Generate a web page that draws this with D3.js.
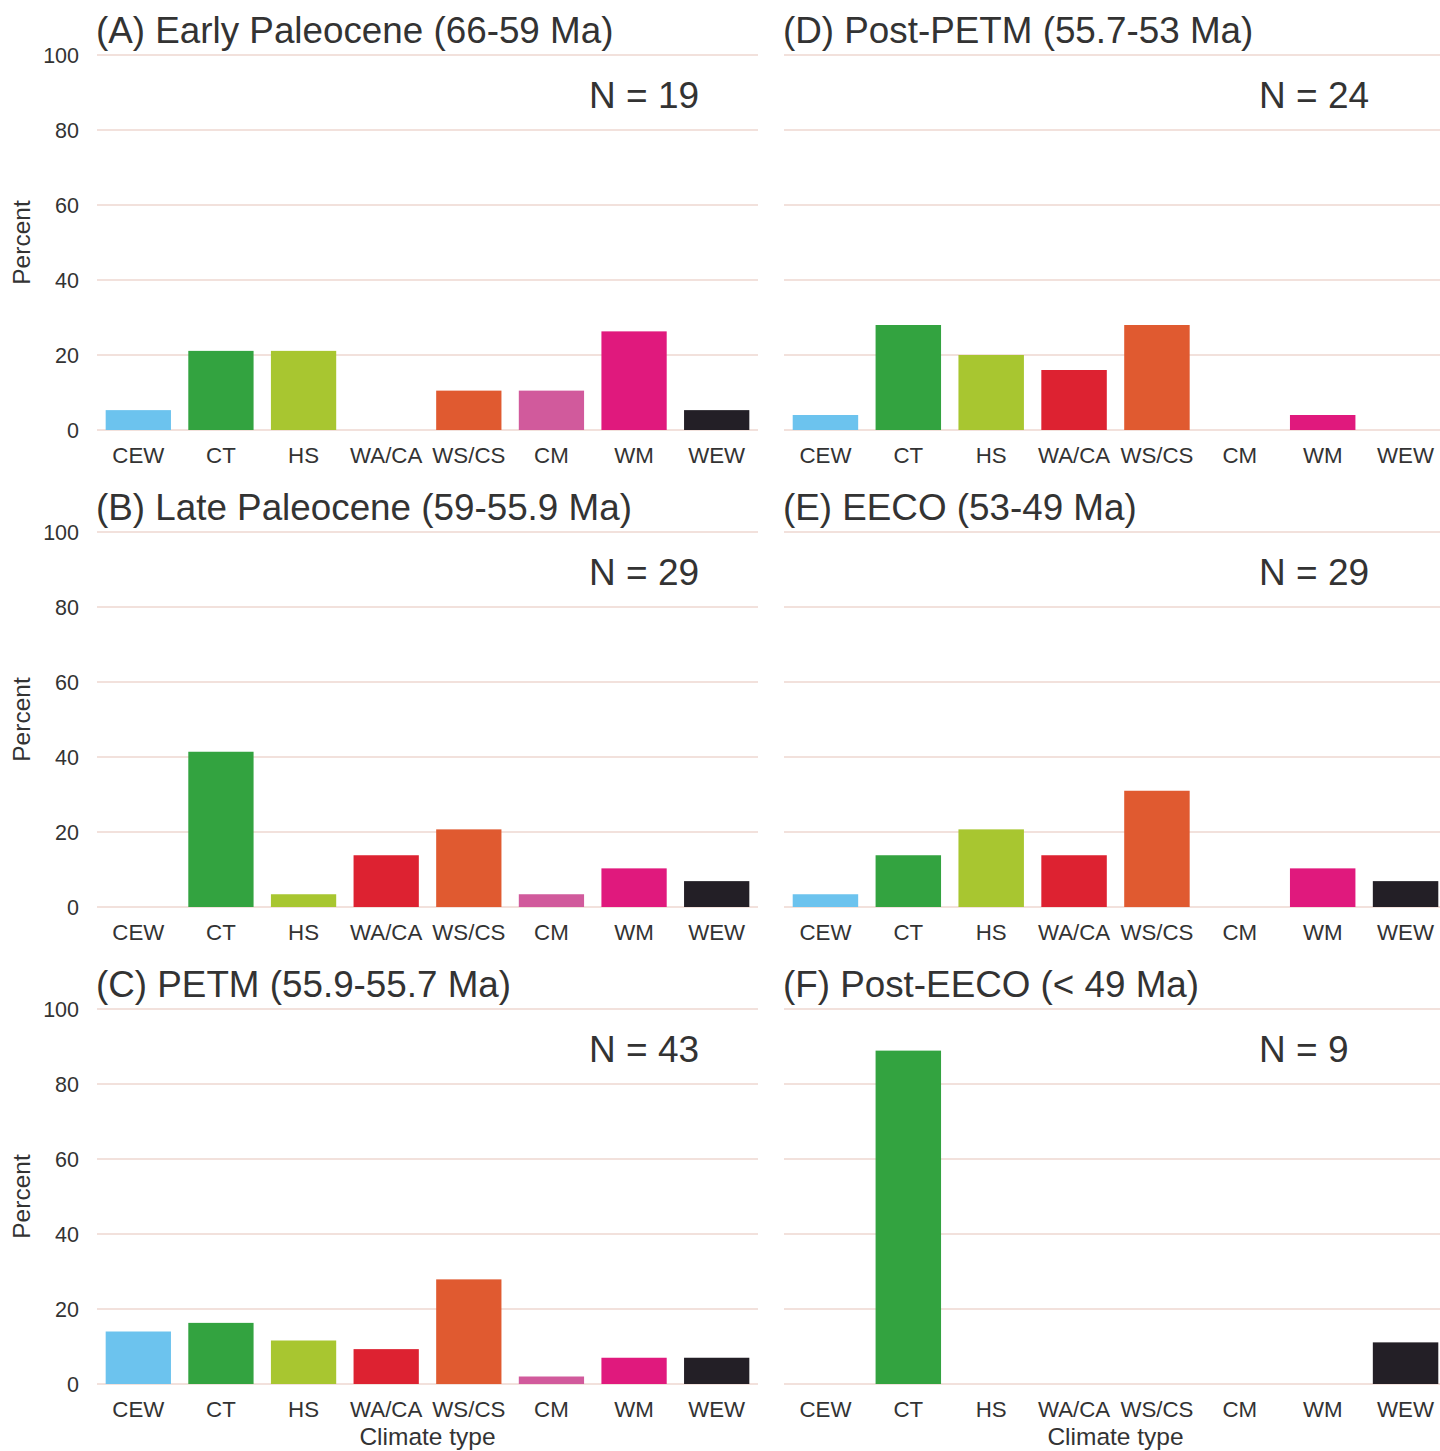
<!DOCTYPE html>
<html>
<head>
<meta charset="utf-8">
<script src="https://cdn.jsdelivr.net/npm/d3@7"></script>
<style>
  html, body { margin: 0; padding: 0; background: #fff; }
  svg { display: block; font-family: "Liberation Sans", Arial, sans-serif; }
</style>
</head>
<body>
<svg id="chart" width="1440" height="1451"></svg>
<script>
// ---- data ----
const categories = ["CEW", "CT", "HS", "WA/CA", "WS/CS", "CM", "WM", "WEW"];
const colors = ["#6cc3ee", "#33a340", "#a8c630", "#dd2231", "#e05a30", "#d15a9c", "#e0197d", "#231f26"];
const yTicks = [0, 20, 40, 60, 80, 100];

const titles = [
  "(A) Early Paleocene (66-59 Ma)",
  "(B) Late Paleocene (59-55.9 Ma)",
  "(C) PETM (55.9-55.7 Ma)",
  "(D) Post-PETM (55.7-53 Ma)",
  "(E) EECO (53-49 Ma)",
  "(F) Post-EECO (< 49 Ma)"
];
const sampleSizes = [19, 29, 43, 24, 29, 9];

const valuesA = [5.3, 21.1, 21.1, 0, 10.5, 10.5, 26.3, 5.3];
const valuesB = [0, 41.4, 3.4, 13.8, 20.7, 3.4, 10.3, 6.9];
const valuesC = [14.0, 16.3, 11.6, 9.3, 27.9, 2.0, 7.0, 7.0];
const valuesD = [4.0, 28.0, 20.0, 16.0, 28.0, 0, 4.0, 0];
const valuesE = [3.4, 13.8, 20.7, 13.8, 31.0, 0, 10.3, 6.9];
const valuesF = [0, 88.9, 0, 0, 0, 0, 0, 11.1];
const panelValues = [valuesA, valuesB, valuesC, valuesD, valuesE, valuesF];

// ---- layout ----
const svg = d3.select("#chart");
const colX = [[97, 758], [784, 1447]];
const nTextX = [589, 1259];
const rowZero = [430, 907, 1384];
const plotH = 375;
const textColor = "#333333";
const gridColor = "#f2e1dc";

panelValues.forEach((vals, i) => {
  const col = Math.floor(i / 3), row = i % 3;
  const [x0, x1] = colX[col];
  const yZero = rowZero[row];
  const g = svg.append("g");

  const x = d3.scaleBand().domain(categories).range([x0, x1])
    .paddingInner(0.21).paddingOuter(0.105);
  const y = d3.scaleLinear().domain([0, 100]).range([yZero, yZero - plotH]);

  // gridlines
  g.selectAll("line.grid").data(yTicks).join("line")
    .attr("x1", x0).attr("x2", x1)
    .attr("y1", d => y(d)).attr("y2", d => y(d))
    .attr("stroke", gridColor).attr("stroke-width", 2);

  // y tick labels (left column only)
  if (col === 0) {
    const ya = d3.axisLeft(y).tickValues(yTicks).tickSize(0).tickPadding(0);
    const ag = g.append("g").attr("transform", `translate(${x0 - 18},1)`).call(ya);
    ag.select(".domain").remove();
    ag.selectAll("text").attr("font-size", 21.5).attr("fill", textColor)
      .attr("font-family", "Liberation Sans, Arial, sans-serif");

    g.append("text")
      .attr("transform", `translate(30,${y(50)}) rotate(-90)`)
      .attr("text-anchor", "middle")
      .attr("font-size", 24.5).attr("fill", textColor)
      .text("Percent");
  }

  // bars
  g.selectAll("rect.bar").data(vals.map((v, k) => ({ c: categories[k], v, col: colors[k] })))
    .join("rect")
    .attr("x", d => x(d.c)).attr("width", x.bandwidth())
    .attr("y", d => y(d.v)).attr("height", d => y(0) - y(d.v))
    .attr("fill", d => d.col);

  // x axis labels
  const xa = d3.axisBottom(x).tickSize(0).tickPadding(0);
  const xg = g.append("g").attr("transform", `translate(0,${yZero + 17})`).call(xa);
  xg.select(".domain").remove();
  xg.selectAll("text").attr("font-size", 22.3).attr("fill", textColor)
    .attr("font-family", "Liberation Sans, Arial, sans-serif")
    .attr("dy", "0.71em");

  // title
  g.append("text")
    .attr("x", x0 - 1).attr("y", yZero - plotH - 12)
    .attr("font-size", 36.8).attr("fill", textColor)
    .text(titles[i]);

  // N label
  g.append("text")
    .attr("x", nTextX[col]).attr("y", yZero - plotH + 53)
    .attr("font-size", 37).attr("fill", textColor)
    .text("N = " + sampleSizes[i]);

  // x axis title on bottom row
  if (row === 2) {
    g.append("text")
      .attr("x", (x0 + x1) / 2).attr("y", 1445)
      .attr("text-anchor", "middle")
      .attr("font-size", 24.5).attr("fill", textColor)
      .text("Climate type");
  }
});
</script>
</body>
</html>
